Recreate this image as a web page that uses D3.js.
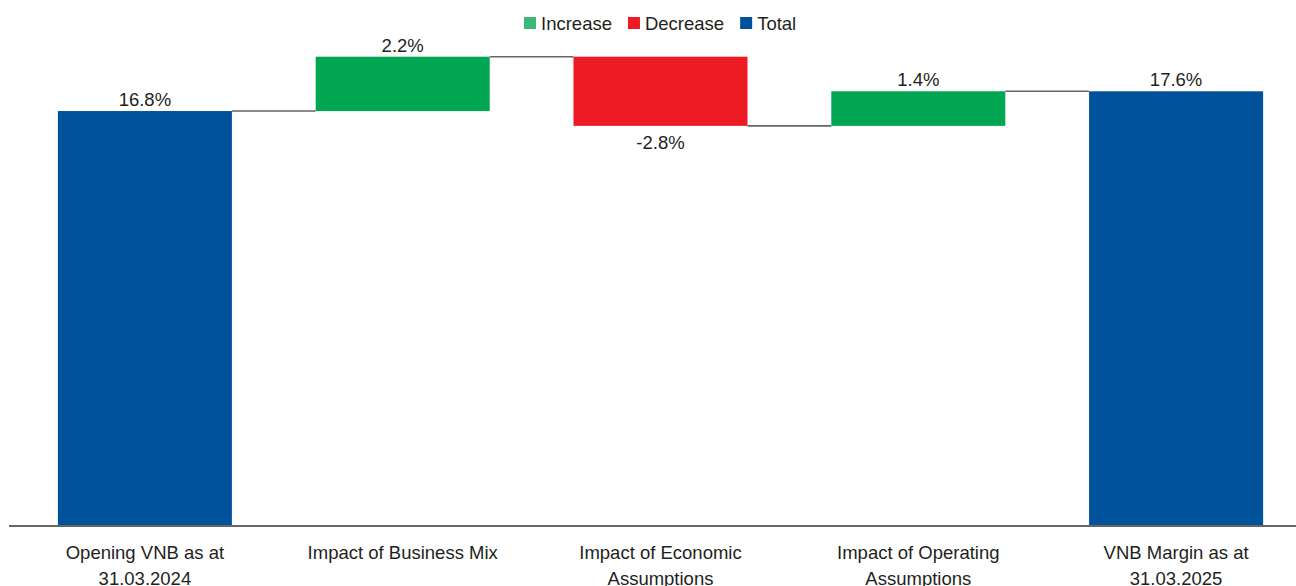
<!DOCTYPE html>
<html><head><meta charset="utf-8">
<script src="https://cdn.jsdelivr.net/npm/d3@7"></script>
<style>body{margin:0;background:#fff}svg{display:block;font-family:"Liberation Sans",Arial,sans-serif}</style>
</head><body><svg id="c" width="1296" height="586"></svg>
<script>
const categories = [["Opening VNB as at","31.03.2024"],["Impact of Business Mix"],["Impact of Economic","Assumptions"],["Impact of Operating","Assumptions"],["VNB Margin as at","31.03.2025"]];
const values = [16.8, 2.2, -2.8, 1.4, 17.6];
const kinds = ["total","inc","dec","inc","total"];
const legendItems = [["Increase","#3cb878"],["Decrease","#ed1c24"],["Total","#00529b"]];
const barColors = {inc:"#00a651", dec:"#ed1c24", total:"#00529b"};

const FS = 18.5;
const svg = d3.select("#c");
const x = d3.scaleBand().domain(d3.range(values.length)).range([16, 1305]).paddingInner(0.325).paddingOuter(0.1625);
const y = d3.scaleLinear().domain([0, 20]).range([526, 32]);

let cum = 0;
const bars = values.map((v,i)=>{
  let b0, b1;
  if (kinds[i]==="total"){ b0=0; b1=v; cum=v; }
  else { b0=cum; b1=cum+v; cum=b1; }
  return {i, v, kind:kinds[i], lo:Math.min(b0,b1), hi:Math.max(b0,b1), end:b1};
});

// connectors
bars.slice(0,-1).forEach((b,k)=>{
  svg.append("line").attr("x1",x(b.i)+x.bandwidth()).attr("x2",x(b.i+1))
    .attr("y1",y(b.end)).attr("y2",y(b.end)).attr("stroke","#666").attr("stroke-width",1.6);
});

svg.selectAll("rect.bar").data(bars).join("rect").attr("class","bar")
  .attr("x",d=>x(d.i)).attr("width",x.bandwidth())
  .attr("y",d=>y(d.hi)).attr("height",d=>y(d.lo)-y(d.hi))
  .attr("fill",d=>barColors[d.kind]);

svg.selectAll("text.val").data(bars).join("text").attr("class","val")
  .attr("x",d=>x(d.i)+x.bandwidth()/2)
  .attr("y",d=>d.kind==="dec"? y(d.lo)+23 : y(d.hi)-5)
  .attr("text-anchor","middle").attr("font-size",FS).attr("fill","#231f20")
  .text(d=>d.v.toFixed(1)+"%");

// axis
const ax = svg.append("g").attr("transform","translate(0,526)").call(d3.axisBottom(x).tickSize(0).tickFormat(""));
ax.select(".domain").attr("d","M9,0H1296").attr("stroke","#666").attr("stroke-width",2);

svg.selectAll("text.cat").data(categories).join("text").attr("class","cat")
  .attr("text-anchor","middle").attr("font-size",FS).attr("fill","#231f20")
  .each(function(lines,i){
    const t=d3.select(this);
    lines.forEach((l,k)=>t.append("tspan").attr("x",x(i)+x.bandwidth()/2).attr("y",558.5+k*26).text(l));
  });

// legend
const lg = svg.append("g");
let lx = 524;
legendItems.forEach(([name,col])=>{
  lg.append("rect").attr("x",lx).attr("y",17).attr("width",12).attr("height",12).attr("fill",col);
  const t = lg.append("text").attr("x",lx+17).attr("y",29.5).attr("font-size",FS).attr("fill","#231f20").text(name);
  lx += 17 + t.node().getComputedTextLength() + 16;
});
</script></body></html>
